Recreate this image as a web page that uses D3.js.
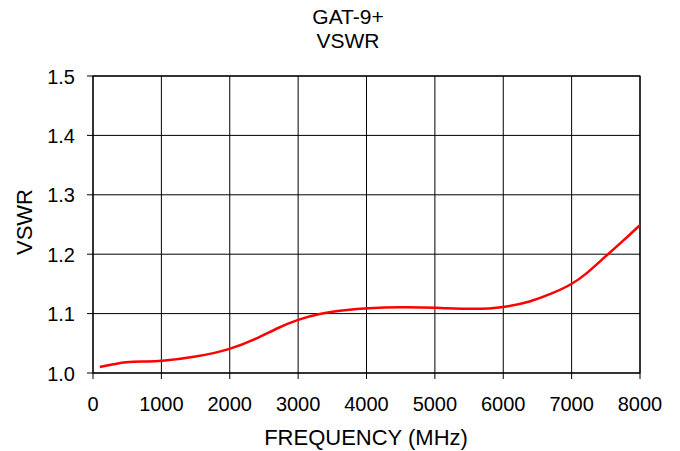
<!DOCTYPE html>
<html>
<head>
<meta charset="utf-8">
<script src="https://cdn.jsdelivr.net/npm/d3@7"></script>
<style>
  body { margin: 0; background: #fff; }
  text { font-family: "Liberation Sans", Arial, sans-serif; fill: #000; }
</style>
</head>
<body>
<svg id="chart" width="680" height="451"></svg>
<script>
// data
var freq  = [100, 500, 800, 1000, 1500, 2000, 2400, 2700, 3000, 3300, 3700, 4000, 4500, 5000, 5600, 6000, 6400, 6700, 7000, 7200, 7500, 7750, 8000];
var vswr  = [1.010, 1.020, 1.019, 1.020, 1.027, 1.039, 1.058, 1.076, 1.090, 1.100, 1.106, 1.109, 1.111, 1.110, 1.107, 1.110, 1.120, 1.133, 1.149, 1.165, 1.197, 1.222, 1.249];
var xTicks = [0, 1000, 2000, 3000, 4000, 5000, 6000, 7000, 8000];
var yTicks = [1.0, 1.1, 1.2, 1.3, 1.4, 1.5];

var svg = d3.select("#chart");
var plotL = 93, plotR = 640, plotT = 76, plotB = 373;

var x = d3.scaleLinear().domain([0, 8000]).range([plotL, plotR]);
var y = d3.scaleLinear().domain([1.0, 1.5]).range([plotB, plotT]);

// grid + outside ticks
svg.append("g").selectAll("line").data(xTicks).enter().append("line")
  .attr("x1", function(d) { return x(d); }).attr("x2", function(d) { return x(d); })
  .attr("y1", plotT).attr("y2", plotB + 6)
  .attr("stroke", "#000").attr("stroke-width", 1);
svg.append("g").selectAll("line").data(yTicks).enter().append("line")
  .attr("x1", plotL - 6).attr("x2", plotR)
  .attr("y1", function(d) { return y(d); }).attr("y2", function(d) { return y(d); })
  .attr("stroke", "#000").attr("stroke-width", 1);

svg.append("rect")
  .attr("x", plotL).attr("y", plotT)
  .attr("width", plotR - plotL).attr("height", plotB - plotT)
  .attr("fill", "none").attr("stroke", "#000").attr("stroke-width", 1.2);

// tick labels
svg.append("g").selectAll("text").data(xTicks).enter().append("text")
  .attr("x", function(d) { return x(d); }).attr("y", 411)
  .attr("text-anchor", "middle").attr("font-size", 20)
  .text(function(d) { return d; });
svg.append("g").selectAll("text").data(yTicks).enter().append("text")
  .attr("x", plotL - 18).attr("y", function(d) { return y(d) + 7.5; })
  .attr("text-anchor", "end").attr("font-size", 20)
  .text(function(d) { return d.toFixed(1); });

// titles
svg.append("text").attr("x", 348).attr("y", 24).attr("text-anchor", "middle")
  .attr("font-size", 21).text("GAT-9+");
svg.append("text").attr("x", 348).attr("y", 48).attr("text-anchor", "middle")
  .attr("font-size", 21).text("VSWR");
svg.append("text").attr("x", 366).attr("y", 445).attr("text-anchor", "middle")
  .attr("font-size", 22).text("FREQUENCY (MHz)");
svg.append("text").attr("transform", "translate(32,222) rotate(-90)")
  .attr("text-anchor", "middle").attr("font-size", 22).text("VSWR");

// curve (basis spline smooths the traced points)
var line = d3.line()
  .x(function(d, i) { return x(freq[i]); })
  .y(function(d) { return y(d); })
  .curve(d3.curveBasis);

svg.append("path").datum(vswr)
  .attr("d", line)
  .attr("fill", "none").attr("stroke", "#ff0000").attr("stroke-width", 2.5);
</script>
</body>
</html>
